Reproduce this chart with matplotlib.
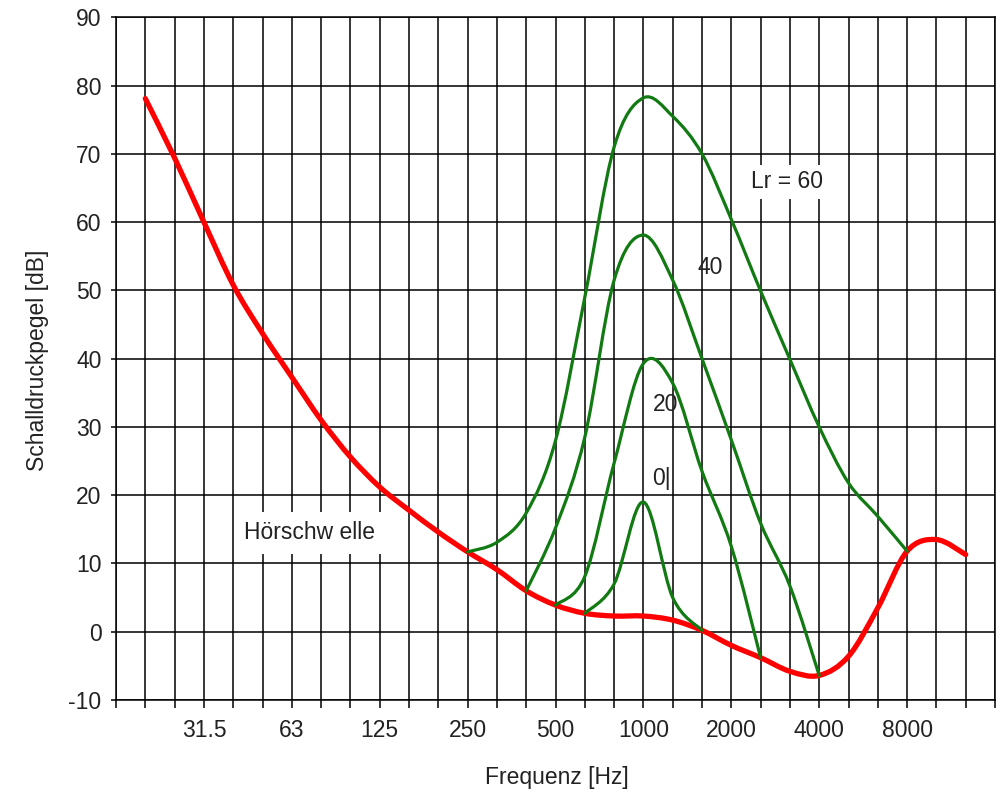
import matplotlib.pyplot as plt
from matplotlib.path import Path
from matplotlib.patches import PathPatch
import numpy as np

plt.rcParams['font.family'] = ['Liberation Sans', 'DejaVu Sans']
plt.rcParams['axes.unicode_minus'] = False

# third-octave band centres, drawn on an evenly spaced category axis
bands = ["16", "20", "25", "31.5", "40", "50", "63", "80", "100", "125", "160",
         "200", "250", "315", "400", "500", "630", "800", "1000", "1250", "1600",
         "2000", "2500", "3150", "4000", "5000", "6300", "8000", "10000", "12500", "16000"]
tick_labels = ["31.5", "63", "125", "250", "500", "1000", "2000", "4000", "8000"]

# Hoerschwelle, 20 Hz .. 12500 Hz
threshold_bands = bands[1:30]
threshold_db = [78.1, 69.4, 60.0, 50.8, 43.7, 37.3, 31.0, 25.6, 21.2, 17.8,
                14.6, 11.7, 9.1, 6.0, 3.9, 2.7, 2.3, 2.3, 1.7, 0.2,
                -2.0, -3.8, -5.8, -6.4, -3.6, 3.5, 11.8, 13.5, 11.3]

# masking curves (narrow band noise at 1 kHz), Lr = 60 / 40 / 20 / 0
lr60_bands = bands[12:28]
lr60_db = [11.7, 13.1, 17.4, 28.0, 49.0, 71.0, 78.2, 75.5, 70.0, 60.4,
           49.9, 39.9, 30.0, 21.8, 16.9, 11.8]
lr40_bands = bands[14:25]
lr40_db = [6.0, 15.2, 28.5, 51.5, 58.1, 51.5, 40.0, 28.1, 15.9, 6.7, -6.4]
lr20_bands = bands[15:23]
lr20_db = [3.9, 8.1, 24.7, 39.3, 36.4, 23.5, 12.5, -3.8]
lr0_bands = bands[16:21]
lr0_db = [2.7, 7.0, 19.0, 5.0, 0.2]


def smooth_line(ax, names, values, **kw):
    # spreadsheet-style smoothed line: cubic bezier through the data points
    p = np.column_stack([[bands.index(n) for n in names], values]).astype(float)
    verts = [p[0]]
    codes = [Path.MOVETO]
    for i in range(len(p) - 1):
        p0 = p[i - 1] if i > 0 else p[i]
        p3 = p[i + 2] if i + 2 < len(p) else p[i + 1]
        verts += [p[i] + (p[i + 1] - p0) / 6, p[i + 1] - (p3 - p[i]) / 6, p[i + 1]]
        codes += [Path.CURVE4] * 3
    ax.add_patch(PathPatch(Path(verts, codes), fill=False, capstyle='round',
                           joinstyle='round', **kw))


fig = plt.figure(figsize=(10.07, 7.95), dpi=100)
ax = fig.add_axes([0.1152, 0.1195, 0.8729, 0.8587])

smooth_line(ax, threshold_bands, threshold_db, edgecolor='#ff0000', lw=3.8, zorder=3)
green = '#127a12'
for b, v in [(lr60_bands, lr60_db), (lr40_bands, lr40_db),
             (lr20_bands, lr20_db), (lr0_bands, lr0_db)]:
    smooth_line(ax, b, v, edgecolor=green, lw=2.3, zorder=4)

ax.set_xlim(0, len(bands) - 1)
ax.set_ylim(-10, 90)
ax.set_xticks(range(len(bands)))
ax.set_xticklabels([b if b in tick_labels else "" for b in bands])
ax.set_yticks(range(-10, 91, 10))
ax.grid(True, color='black', lw=1.1)
for s in ax.spines.values():
    s.set_color('black')
    s.set_linewidth(1.1)
ax.tick_params(axis='x', direction='out', length=6, width=1.1, pad=8,
               labelsize=16.5, labelcolor='#222222')
ax.tick_params(axis='y', direction='out', length=3.5, width=1.1, pad=7,
               labelsize=16.5, labelcolor='#222222')

ax.set_xlabel("Frequenz [Hz]", fontsize=16.5, color='#222222')
ax.set_ylabel("Schalldruckpegel [dB]", fontsize=16.5, color='#222222')
ax.xaxis.set_label_coords(0.502, -0.097)
ax.yaxis.set_label_coords(-0.076, 0.498)

box = dict(facecolor='white', edgecolor='none', pad=4)
ax.text(22.9, 65.9, "Lr = 60", fontsize=16.5, color='#222222', ha='center', va='center', bbox=box, zorder=5)
ax.text(20.27, 53.3, "40", fontsize=16.5, color='#222222', ha='center', va='center', zorder=5)
ax.text(18.77, 33.3, "20", fontsize=16.5, color='#222222', ha='center', va='center', zorder=5)
ax.text(18.63, 22.5, "0|", fontsize=16.5, color='#222222', ha='center', va='center', zorder=5)
ax.text(6.6, 14.5, "Hörschw elle", fontsize=16.5, color='#222222', ha='center', va='center',
        bbox=dict(facecolor='white', edgecolor='none', pad=7), zorder=5)

fig.savefig("out.png", dpi=100)
